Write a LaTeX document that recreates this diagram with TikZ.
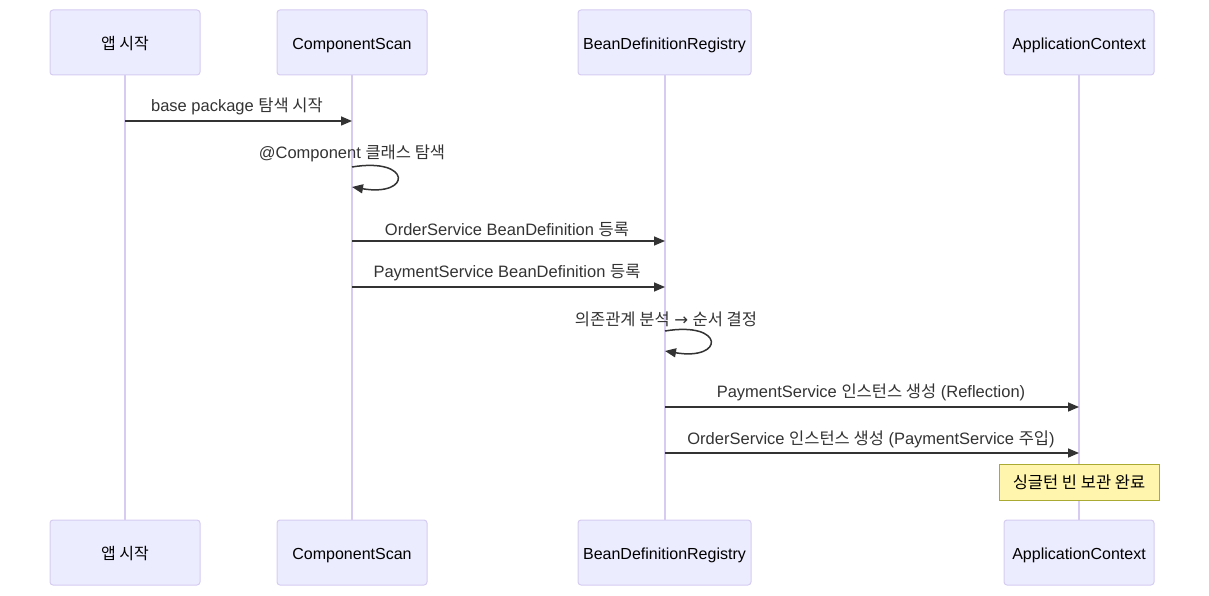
\documentclass[tikz,border=0pt]{standalone}
\usepackage{fontspec}
\setmainfont{Liberation Sans}
\newfontfamily\krfont{Noto Sans CJK KR}
\newfontfamily\symfont{DejaVu Sans}
\newcommand\kr[1]{{\krfont #1}}
\usetikzlibrary{arrows.meta}
\definecolor{actfill}{HTML}{ECECFF}
\definecolor{actline}{HTML}{D6CCF2}
\definecolor{msgc}{HTML}{333333}
\definecolor{notefill}{HTML}{FFF5AD}
\definecolor{noteline}{HTML}{AAAA33}
\begin{document}
\begin{tikzpicture}[x=1pt,y=-1pt,
  actor/.style={draw=actline, fill=actfill, rounded corners=3pt, minimum width=150pt, minimum height=65pt, inner sep=0pt, line width=1pt, font=\fontsize{16}{19}\selectfont, text=black, text depth=0pt, text height=14.5pt},
  lifeline/.style={draw=actline, line width=1.5pt},
  msg/.style={draw=msgc, line width=1.5pt, -{Triangle[length=11pt,width=9pt]}},
  lbl/.style={font=\fontsize{16.5}{19}\selectfont, text=msgc, inner sep=0pt},
  notebox/.style={draw=noteline, fill=notefill, minimum width=160pt, minimum height=36pt, inner sep=0pt, line width=1pt, font=\fontsize{16.5}{19}\selectfont, text=black}
]
\useasboundingbox (0,0) rectangle (1209,596);
% lifelines first
\foreach \x in {125,352,665,1079} { \draw[lifeline] (\x,75) -- (\x,520); }
% actors top
\node[actor] (a1) at (125,42.5) {\kr{앱 시작}};
\node[actor] (a2) at (352,42.5) {ComponentScan};
\node[actor, minimum width=173pt] (a3) at (664.5,42.5) {BeanDefinitionRegistry};
\node[actor] (a4) at (1079,42.5) {ApplicationContext};
% actors bottom
\node[actor] (b1) at (125,552.5) {\kr{앱 시작}};
\node[actor] (b2) at (352,552.5) {ComponentScan};
\node[actor, minimum width=173pt] (b3) at (664.5,552.5) {BeanDefinitionRegistry};
\node[actor] (b4) at (1079,552.5) {ApplicationContext};
% message 1
\coordinate (m1s) at (125,121); \coordinate (m1e) at (352,121);
\node[lbl] (l1) at (237,106) {base package \kr{탐색 시작}};
\draw[msg] (m1s) -- (m1e);
% message 2 self
\coordinate (m2s) at (352,167); \coordinate (m2e) at (352,187);
\node[lbl] (l2) at (352,153) {@Component \kr{클래스 탐색}};
\draw[msg] (m2s) .. controls (412,157) and (412,197) .. (m2e);
% message 3
\coordinate (m3s) at (352,241); \coordinate (m3e) at (665,241);
\node[lbl] (l3) at (507,229) {OrderService BeanDefinition \kr{등록}};
\draw[msg] (m3s) -- (m3e);
% message 4
\coordinate (m4s) at (352,287); \coordinate (m4e) at (665,287);
\node[lbl] (l4) at (507,273) {PaymentService BeanDefinition \kr{등록}};
\draw[msg] (m4s) -- (m4e);
% message 5 self
\coordinate (m5s) at (665,331); \coordinate (m5e) at (665,351);
\node[lbl] (l5) at (666,319) {\kr{의존관계 분석} {\symfont →} \kr{순서 결정}};
\draw[msg] (m5s) .. controls (725,321) and (725,361) .. (m5e);
% message 6
\coordinate (m6s) at (665,407); \coordinate (m6e) at (1079,407);
\node[lbl] (l6) at (871,392) {PaymentService \kr{인스턴스 생성} (Reflection)};
\draw[msg] (m6s) -- (m6e);
% message 7
\coordinate (m7s) at (665,453); \coordinate (m7e) at (1079,453);
\node[lbl] (l7) at (871,439) {OrderService \kr{인스턴스 생성} (PaymentService \kr{주입})};
\draw[msg] (m7s) -- (m7e);
% note
\node[notebox] (n1) at (1079,482) {\kr{싱글턴 빈 보관 완료}};
\end{tikzpicture}
\end{document}
